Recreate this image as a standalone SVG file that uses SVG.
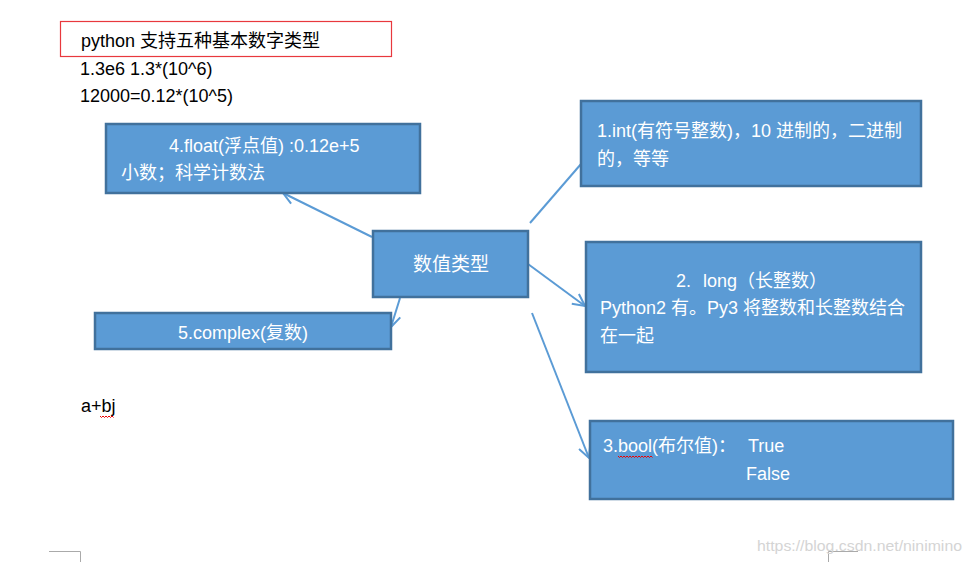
<svg xmlns="http://www.w3.org/2000/svg" width="971" height="562" viewBox="0 0 971 562">
<style>
text{font-family:"Liberation Sans","Noto Sans CJK SC",sans-serif;font-size:18px}
.dark{fill:#000}
.w{fill:#fff}
.box{fill:#5B9BD5;stroke:#41719C;stroke-width:2.5}
.conn{stroke:#5B9BD5;stroke-width:2;fill:none}
.sq{stroke:#e00;stroke-width:1;fill:none}
</style>
<defs>
<marker id="ah" viewBox="0 0 14 14" refX="13" refY="7" markerWidth="14" markerHeight="14" markerUnits="userSpaceOnUse" orient="auto">
<path d="M1,1 L13,7 L1,13" fill="none" stroke="#5B9BD5" stroke-width="2"/>
</marker>
</defs>
<rect width="971" height="562" fill="#fff"/>
<g id="title">
<rect x="60.500" y="21.500" width="331" height="35" fill="none" stroke="#E8383D" stroke-width="1.2"/>
<text class="dark" x="81" y="47">python 支持五种基本数字类型</text>
</g>
<g id="notes">
<text class="dark" x="80" y="75">1.3e6 1.3*(10^6)</text>
<text class="dark" x="80" y="102">12000=0.12*(10^5)</text>
<text class="dark" x="81" y="412">a+bj</text>
<path class="sq" d="M100,416 l1.5,1.5 l1.5,-1.5 l1.5,1.5 l1.5,-1.5 l1.5,1.5 l1.5,-1.5 l1.5,1.5 l1.5,-1.5 l1.5,1.5"/>
</g>
<g id="connectors">
<line class="conn" x1="372" y1="237" x2="283" y2="193" marker-end="url(#ah)"/>
<line class="conn" x1="530" y1="223" x2="581" y2="164"/>
<line class="conn" x1="528" y1="264" x2="585" y2="306" marker-end="url(#ah)"/>
<line class="conn" x1="532" y1="313" x2="589" y2="458" marker-end="url(#ah)"/>
<line class="conn" x1="400" y1="298" x2="391" y2="327" marker-end="url(#ah)"/>
</g>
<g id="center">
<rect class="box" x="373" y="231" width="155" height="66"/>
<text class="w" x="451" y="271" text-anchor="middle" style="font-size:19px">数值类型</text>
</g>
<g id="float">
<rect class="box" x="106" y="124" width="314" height="69"/>
<text class="w" x="169" y="152">4.float(浮点值) :0.12e+5</text>
<text class="w" x="121" y="179">小数；科学计数法</text>
</g>
<g id="int">
<rect class="box" x="581" y="101" width="340" height="85"/>
<text class="w" x="597" y="137">1.int(有符号整数)，10 进制的，二进制</text>
<text class="w" x="597" y="165">的，等等</text>
</g>
<g id="long">
<rect class="box" x="586" y="242" width="335" height="130"/>
<text class="w" x="676" y="287">2.</text>
<text class="w" x="703" y="287">long（长整数）</text>
<text class="w" x="600" y="314">Python2 有。Py3 将整数和长整数结合</text>
<text class="w" x="600" y="342">在一起</text>
</g>
<g id="bool">
<rect class="box" x="590" y="421" width="363" height="78"/>
<text class="w" x="603" y="452">3.bool(布尔值)：</text>
<text class="w" x="748" y="452">True</text>
<text class="w" x="746" y="480">False</text>
<path class="sq" d="M618,456 l1.5,1.5 l1.5,-1.5 l1.5,1.5 l1.5,-1.5 l1.5,1.5 l1.5,-1.5 l1.5,1.5 l1.5,-1.5 l1.5,1.5 l1.5,-1.5 l1.5,1.5 l1.5,-1.5 l1.5,1.5 l1.5,-1.5 l1.5,1.5 l1.5,-1.5 l1.5,1.5 l1.5,-1.5 l1.5,1.5 l1.5,-1.5 l1.5,1.5 l1.5,-1.5 l1.5,1.5"/>
</g>
<g id="complex">
<rect class="box" x="95" y="313" width="296" height="36"/>
<text class="w" x="243" y="339" text-anchor="middle">5.complex(复数)</text>
</g>
<g id="page-marks">
<path d="M49,551.500 H80.500 V562" fill="none" stroke="#aaa" stroke-width="1"/>
<path d="M828.500,562 V551.500 H858" fill="none" stroke="#aaa" stroke-width="1"/>
<text x="757" y="551" textLength="205" lengthAdjust="spacingAndGlyphs" style="font-size:15px;fill:#d4d4d4">https://blog.csdn.net/ninimino</text>
</g>
</svg>
